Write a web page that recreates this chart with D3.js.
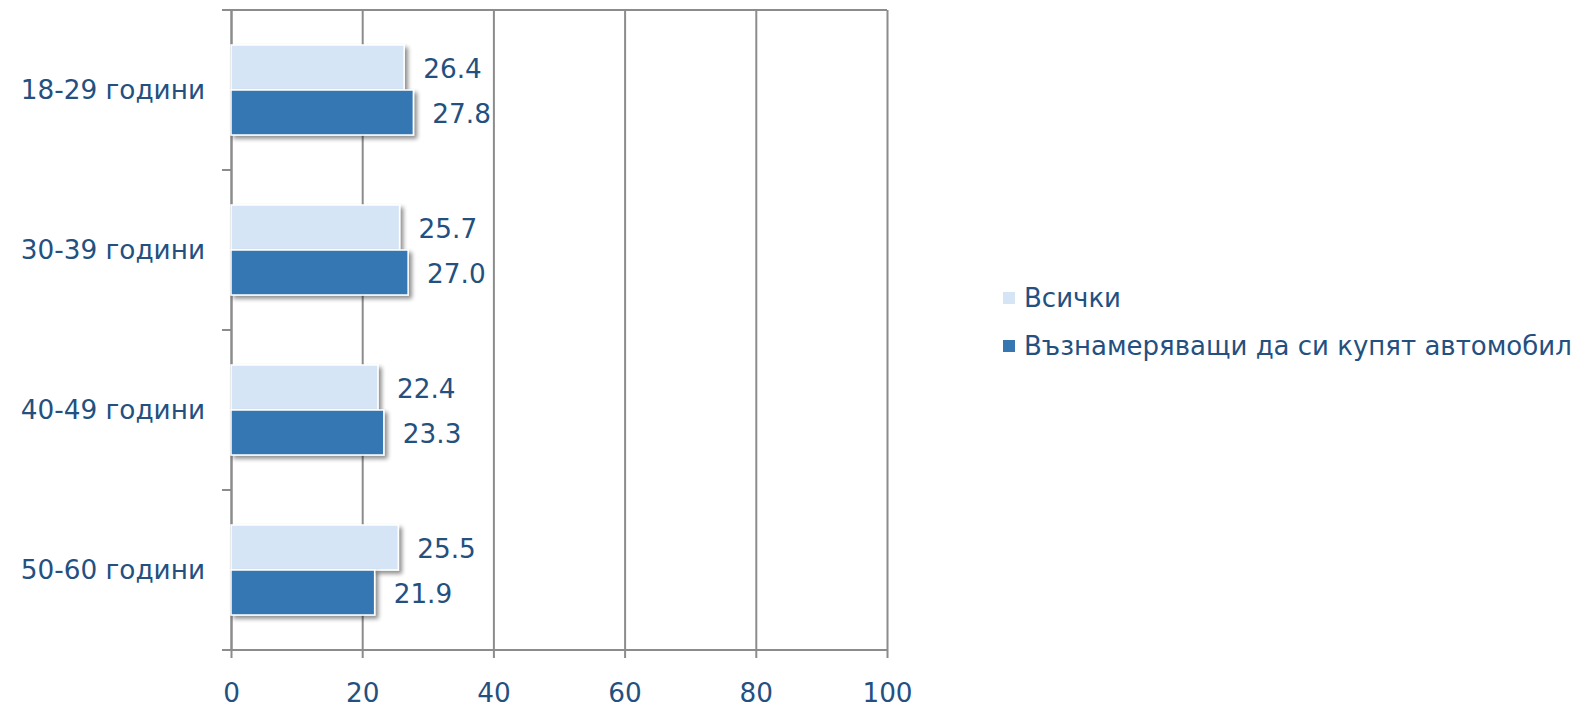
<!DOCTYPE html>
<html><head><meta charset="utf-8">
<script src="https://cdn.jsdelivr.net/npm/d3@7"></script>
<style>
html,body{margin:0;padding:0;background:#fff;}
svg text{font-family:"DejaVu Sans",Verdana,sans-serif;}
</style></head>
<body>
<svg id="chart" width="1577" height="707"></svg>
<script>
const categories = ["18-29 години","30-39 години","40-49 години","50-60 години"];
const seriesNames = ["Всички","Възнамеряващи да си купят автомобил"];
const seriesAll = [26.4, 25.7, 22.4, 25.5];
const seriesBuyers = [27.8, 27.0, 23.3, 21.9];
const xTicks = [0,20,40,60,80,100];
const colors = ["#D6E5F5","#3677B2"];
const textColor = "#24507F";
const gridColor = "#8C8C8C";
const fs = 26.3;

const svg = d3.select("#chart");
const defs = svg.append("defs");
const f = defs.append("filter").attr("id","sh").attr("x","-10%").attr("y","-20%").attr("width","130%").attr("height","160%");
f.append("feGaussianBlur").attr("in","SourceAlpha").attr("stdDeviation",2.2).attr("result","b");
f.append("feOffset").attr("in","b").attr("dx",2.5).attr("dy",3).attr("result","o");
f.append("feComponentTransfer").attr("in","o").attr("result","o2").append("feFuncA").attr("type","linear").attr("slope",0.45);
const m = f.append("feMerge"); m.append("feMergeNode").attr("in","o2"); m.append("feMergeNode").attr("in","SourceGraphic");

const x = d3.scaleLinear().domain([0,100]).range([231,887]);
const y = d3.scaleBand().domain(categories).range([10,650]);
const ys = d3.scaleBand().domain(seriesNames).range([-45,45]);
const data = [seriesAll, seriesBuyers];

// gridlines + x axis
const xAxis = d3.axisBottom(x).tickValues(xTicks).tickSize(648).tickPadding(20).tickFormat(d3.format("d"));
const gx = svg.append("g").attr("transform","translate(0,10)").call(xAxis);
gx.select(".domain").remove();
gx.selectAll(".tick line").attr("stroke",gridColor).attr("stroke-width",2);
gx.selectAll(".tick text").attr("fill",textColor).attr("font-size",fs).attr("dy","0.9em");

// top border
svg.append("line").attr("x1",222).attr("x2",887).attr("y1",10).attr("y2",10).attr("stroke",gridColor).attr("stroke-width",2);
// bottom axis line
svg.append("line").attr("x1",222).attr("x2",887).attr("y1",650).attr("y2",650).attr("stroke",gridColor).attr("stroke-width",2);

// y axis
const yAxis = d3.axisLeft(y).tickSize(0).tickPadding(26);
const gy = svg.append("g").attr("transform","translate(231,0)").call(yAxis);
gy.select(".domain").attr("stroke",gridColor).attr("stroke-width",2);
gy.selectAll(".tick text").attr("fill",textColor).attr("font-size",fs).attr("dy","0.35em");
// category boundary ticks
const bounds = categories.map(c=>y(c)).concat([y.range()[1]]);
svg.append("g").selectAll("line").data(bounds).join("line")
  .attr("x1",222).attr("x2",231).attr("y1",d=>d).attr("y2",d=>d)
  .attr("stroke",gridColor).attr("stroke-width",2);

// bars
seriesNames.forEach((s,si)=>{
  const g = svg.append("g");
  g.selectAll("rect").data(data[si]).join("rect")
    .attr("x",x(0)).attr("y",(d,i)=>y(categories[i])+y.bandwidth()/2+ys(s))
    .attr("width",d=>x(d)-x(0)).attr("height",ys.bandwidth())
    .attr("fill",colors[si]).attr("stroke","#ffffff").attr("stroke-width",1.5)
    .attr("filter","url(#sh)");
  g.selectAll("text").data(data[si]).join("text")
    .attr("x",d=>x(d)+19).attr("y",(d,i)=>y(categories[i])+y.bandwidth()/2+ys(s)+ys.bandwidth()/2+1)
    .attr("dy","0.36em").attr("fill",textColor).attr("font-size",fs)
    .text(d=>d3.format(".1f")(d));
});

// legend
const lg = svg.append("g");
seriesNames.forEach((s,i)=>{
  const cy = 298 + i*48;
  lg.append("rect").attr("x",1003).attr("y",cy-6).attr("width",12).attr("height",12).attr("fill",colors[i]);
  lg.append("text").attr("x",1024).attr("y",cy).attr("dy","0.36em").attr("fill",textColor).attr("font-size",26).text(s);
});
</script>
</body></html>
